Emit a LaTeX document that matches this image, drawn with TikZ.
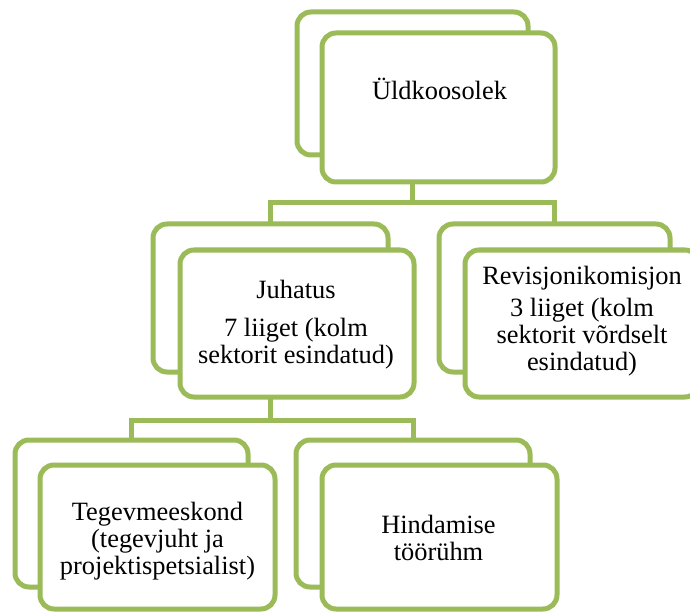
\documentclass[tikz,border=0pt]{standalone}
\usepackage{fontspec}
\setmainfont{Liberation Serif}
\definecolor{olivegreen}{HTML}{9BBB59}
\begin{document}
\begin{tikzpicture}[x=1pt,y=-1pt,
  boxstyle/.style={draw=olivegreen, line width=5pt, rounded corners=14pt, fill=white,
    rectangle, inner sep=0pt, outer sep=0pt},
  conn/.style={draw=olivegreen, line width=5pt},
  txt/.style={align=center, inner sep=0pt, font=\fontsize{26.4}{27}\selectfont}]
\useasboundingbox (0,0) rectangle (690,612);
\clip (0,0) rectangle (690,612);
% back boxes
\node[boxstyle, minimum width=231pt, minimum height=143pt] (topback) at (412.5,83.5) {};
\node[boxstyle, minimum width=233pt, minimum height=149pt] (topfront) at (438.5,107.5) {};
\node[boxstyle, minimum width=235pt, minimum height=148pt] (jback) at (270.5,298) {};
\node[boxstyle, minimum width=234pt, minimum height=147pt] (jfront) at (297,323.5) {};
\node[boxstyle, minimum width=231pt, minimum height=148pt] (rback) at (554.5,298) {};
\node[boxstyle, minimum width=234pt, minimum height=147pt] (rfront) at (582,323.5) {};
\node[boxstyle, minimum width=233pt, minimum height=147pt] (tback) at (131.5,513.5) {};
\node[boxstyle, minimum width=235pt, minimum height=144pt] (tfront) at (157.5,537) {};
\node[boxstyle, minimum width=234pt, minimum height=147pt] (hback) at (413,513.5) {};
\node[boxstyle, minimum width=235pt, minimum height=144pt] (hfront) at (439.5,537) {};
% connectors
\draw[conn] (topfront.south -| topback.center) -- ++(0,21) -| (jback.north);
\draw[conn] (topfront.south -| topback.center) -- ++(0,21) -| (rback.north);
\draw[conn] (jfront.south -| jback.center) -- ++(0,23) -| (tback.north);
\draw[conn] (jfront.south -| jback.center) -- ++(0,23) -| (hback.north);
% texts
\node[txt] (toptext) at (439.5,88.5) {Üldkoosolek};
\node[txt] (jtext) at (296,325) {Juhatus\\[11pt]7 liiget (kolm\\sektorit esindatud)};
\node[txt] (rtext) at (582,321) {Revisjonikomisjon\\[5pt]3 liiget (kolm\\sektorit võrdselt\\esindatud)};
\node[txt] (ttext) at (157.5,541) {Tegevmeeskond\\(tegevjuht ja\\projektispetsialist)};
\node[txt] (htext) at (438.5,538) {Hindamise\\töörühm};
\end{tikzpicture}
\end{document}
